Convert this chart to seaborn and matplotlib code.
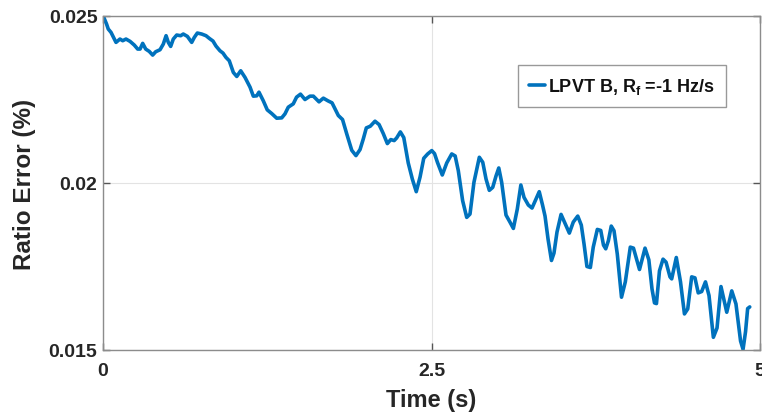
import matplotlib
matplotlib.use("Agg")
import matplotlib.pyplot as plt
import seaborn as sns
import pandas as pd

# Time (s)
time_s = [0.008, 0.027, 0.040, 0.061, 0.099, 0.129, 0.150, 0.175, 0.206, 0.238,
          0.264, 0.282, 0.302, 0.325, 0.352, 0.378, 0.401, 0.434, 0.459, 0.480,
          0.497, 0.515, 0.535, 0.561, 0.591, 0.611, 0.642, 0.675, 0.695, 0.718,
          0.751, 0.784, 0.809, 0.837, 0.860, 0.890, 0.913, 0.936, 0.961, 0.992,
          1.018, 1.048, 1.081, 1.119, 1.144, 1.170, 1.187, 1.220, 1.250, 1.284,
          1.322, 1.360, 1.385, 1.410, 1.448, 1.473, 1.503, 1.537, 1.575, 1.601,
          1.644, 1.677, 1.712, 1.743, 1.766, 1.791, 1.823, 1.855, 1.893, 1.925,
          1.956, 1.981, 2.004, 2.034, 2.070, 2.101, 2.133, 2.164, 2.190, 2.216,
          2.235, 2.263, 2.289, 2.323, 2.354, 2.384, 2.413, 2.441, 2.471, 2.502,
          2.523, 2.546, 2.582, 2.616, 2.654, 2.680, 2.704, 2.737, 2.768, 2.793,
          2.823, 2.864, 2.890, 2.915, 2.940, 2.966, 2.991, 3.012, 3.034, 3.067,
          3.097, 3.123, 3.153, 3.180, 3.204, 3.237, 3.265, 3.292, 3.320, 3.345,
          3.364, 3.387, 3.413, 3.432, 3.455, 3.486, 3.524, 3.549, 3.579, 3.613,
          3.640, 3.661, 3.683, 3.709, 3.731, 3.762, 3.788, 3.809, 3.826, 3.846,
          3.868, 3.889, 3.914, 3.946, 3.975, 4.013, 4.037, 4.083, 4.125, 4.154,
          4.178, 4.197, 4.212, 4.235, 4.262, 4.285, 4.315, 4.328, 4.363, 4.395,
          4.425, 4.450, 4.480, 4.505, 4.530, 4.556, 4.585, 4.612, 4.645, 4.673,
          4.703, 4.747, 4.785, 4.817, 4.852, 4.871, 4.890, 4.906, 4.922]

# Ratio error (%)
ratio_error = [0.02494, 0.02476, 0.02461, 0.02451, 0.02421, 0.02431, 0.02426, 0.02431, 0.02424, 0.02413,
               0.02401, 0.02401, 0.02418, 0.02401, 0.02394, 0.02383, 0.02393, 0.02399, 0.02416, 0.02441,
               0.02421, 0.02409, 0.02431, 0.02443, 0.02441, 0.02446, 0.02439, 0.02421, 0.02436, 0.02449,
               0.02446, 0.02441, 0.02433, 0.02425, 0.02410, 0.02396, 0.02389, 0.02376, 0.02366, 0.02331,
               0.02319, 0.02336, 0.02316, 0.02287, 0.02260, 0.02261, 0.02272, 0.02246, 0.02219, 0.02208,
               0.02194, 0.02195, 0.02207, 0.02227, 0.02237, 0.02257, 0.02266, 0.02250, 0.02260, 0.02260,
               0.02243, 0.02254, 0.02246, 0.02240, 0.02222, 0.02202, 0.02190, 0.02147, 0.02098, 0.02082,
               0.02100, 0.02132, 0.02165, 0.02170, 0.02185, 0.02175, 0.02148, 0.02118, 0.02130, 0.02127,
               0.02135, 0.02153, 0.02136, 0.02060, 0.02012, 0.01974, 0.02018, 0.02074, 0.02087, 0.02097,
               0.02088, 0.02061, 0.02024, 0.02060, 0.02087, 0.02081, 0.02037, 0.01947, 0.01897, 0.01907,
               0.02002, 0.02077, 0.02062, 0.02012, 0.01978, 0.01987, 0.02021, 0.02045, 0.02002, 0.01904,
               0.01883, 0.01864, 0.01922, 0.01994, 0.01957, 0.01934, 0.01925, 0.01949, 0.01974, 0.01934,
               0.01901, 0.01832, 0.01768, 0.01790, 0.01853, 0.01906, 0.01872, 0.01850, 0.01883, 0.01901,
               0.01874, 0.01817, 0.01750, 0.01747, 0.01808, 0.01861, 0.01858, 0.01814, 0.01803, 0.01827,
               0.01871, 0.01857, 0.01787, 0.01658, 0.01704, 0.01808, 0.01805, 0.01741, 0.01805, 0.01770,
               0.01683, 0.01641, 0.01639, 0.01737, 0.01772, 0.01763, 0.01719, 0.01713, 0.01777, 0.01704,
               0.01608, 0.01623, 0.01719, 0.01716, 0.01671, 0.01675, 0.01704, 0.01663, 0.01538, 0.01566,
               0.01690, 0.01613, 0.01677, 0.01638, 0.01527, 0.01502, 0.01555, 0.01624, 0.01629]

series_label = r"LPVT B, $\mathbf{R_f}$ =-1 Hz/s"
x_ticks = [0, 2.5, 5]
x_tick_labels = ["0", "2.5", "5"]
y_ticks = [0.015, 0.02, 0.025]
y_tick_labels = ["0.015", "0.02", "0.025"]

sns.set_theme(style="white")
plt.rcParams["font.family"] = ["Liberation Sans", "DejaVu Sans"]
plt.rcParams["font.weight"] = "bold"
plt.rcParams["mathtext.fontset"] = "custom"
plt.rcParams["mathtext.bf"] = "Liberation Sans:bold"
plt.rcParams["mathtext.rm"] = "Liberation Sans:bold"
plt.rcParams["mathtext.it"] = "Liberation Sans:bold"

df = pd.DataFrame({"Time": time_s, "Error": ratio_error})

fig = plt.figure(figsize=(7.62, 4.14), dpi=100)
ax = fig.add_axes([103 / 762, 63 / 414, 657 / 762, 334 / 414])

sns.lineplot(data=df, x="Time", y="Error", ax=ax, color="#0072BD",
             linewidth=2.6, label=series_label)

ax.set_xlim(0, 5)
ax.set_ylim(0.015, 0.025)
ax.set_xticks(x_ticks)
ax.set_xticklabels(x_tick_labels)
ax.set_yticks(y_ticks)
ax.set_yticklabels(y_tick_labels)

grey = "#8c8c8c"
for sp in ax.spines.values():
    sp.set_visible(True)
    sp.set_color(grey)
    sp.set_linewidth(1.0)

ax.grid(True, color="#e3e3e3", linewidth=0.8)
ax.tick_params(direction="in", length=5, width=1, color="#555555",
               top=True, right=True, bottom=True, left=True,
               labelsize=14, labelcolor="#262626")
ax.tick_params(axis="x", pad=9)
ax.tick_params(axis="y", pad=4)
for lab in ax.get_xticklabels() + ax.get_yticklabels():
    lab.set_fontweight("bold")

ax.set_xlabel("Time (s)", fontsize=17, fontweight="bold", color="#262626", labelpad=6)
ax.set_ylabel("Ratio Error (%)", fontsize=17.5, fontweight="bold", color="#262626", labelpad=9)

leg = ax.legend(loc="center", bbox_to_anchor=(0.79, 0.79), frameon=True,
                fancybox=False, edgecolor="#999999", framealpha=1,
                handlelength=0.9, handletextpad=0.15,
                borderpad=0.6, prop={"weight": "bold", "size": 13})
leg.get_frame().set_linewidth(1.0)
for t in leg.get_texts():
    t.set_color("#111111")

fig.savefig("out.png", dpi=100)
